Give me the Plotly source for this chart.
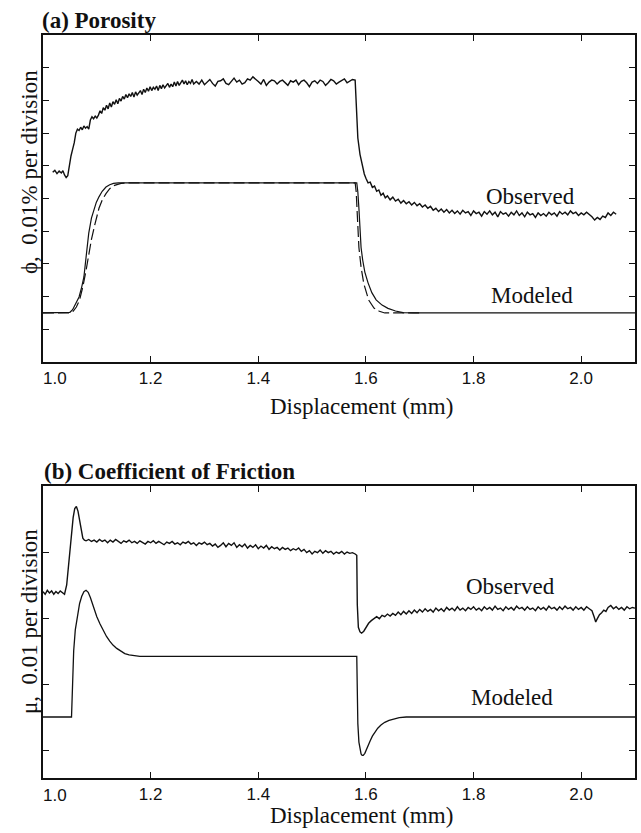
import plotly.graph_objects as go

# ---------------- (a) Porosity, units: divisions (0.01 % per division) ----------------
PHI_OBS_X = [
    1.018, 1.022, 1.026, 1.030, 1.034, 1.037, 1.040, 1.043, 1.046, 1.049,
    1.052, 1.055, 1.058, 1.061, 1.064, 1.067, 1.070, 1.073, 1.076, 1.079,
    1.082, 1.085, 1.088, 1.091, 1.094, 1.097, 1.100, 1.103, 1.106, 1.109,
    1.112, 1.115, 1.118, 1.121, 1.124, 1.127, 1.130, 1.133, 1.136, 1.139,
    1.142, 1.145, 1.148, 1.151, 1.154, 1.157, 1.160, 1.163, 1.166, 1.169,
    1.172, 1.175, 1.178, 1.181, 1.184, 1.187, 1.190, 1.193, 1.196, 1.199,
    1.202, 1.205, 1.208, 1.211, 1.214, 1.217, 1.220, 1.223, 1.226, 1.229,
    1.232, 1.235, 1.238, 1.241, 1.244, 1.247, 1.250, 1.253, 1.256, 1.259,
    1.262, 1.265, 1.268, 1.271, 1.274, 1.277, 1.280,
    1.285, 1.290, 1.295, 1.300, 1.305, 1.310, 1.315, 1.320, 1.325, 1.330,
    1.335, 1.340, 1.345, 1.350, 1.355, 1.360, 1.365, 1.370, 1.375, 1.380,
    1.385, 1.390, 1.395, 1.400, 1.405, 1.410, 1.415, 1.420, 1.425, 1.430,
    1.435, 1.440, 1.445, 1.450, 1.455, 1.460, 1.465, 1.470, 1.475, 1.480,
    1.485, 1.490, 1.495, 1.500, 1.505, 1.510, 1.515, 1.520, 1.525, 1.530,
    1.535, 1.540, 1.545, 1.550, 1.555, 1.560, 1.565, 1.570, 1.575, 1.580,
    1.582, 1.585, 1.589, 1.593, 1.597,
    1.600, 1.604, 1.608, 1.612, 1.616, 1.620, 1.624, 1.628, 1.632, 1.636,
    1.640, 1.645, 1.650, 1.655, 1.660, 1.665, 1.670, 1.675, 1.680, 1.685,
    1.690, 1.695, 1.700, 1.705, 1.710, 1.715, 1.720, 1.725, 1.730, 1.735,
    1.740, 1.745, 1.750, 1.755, 1.760, 1.765, 1.770, 1.775, 1.780, 1.785,
    1.790, 1.795, 1.800, 1.805, 1.810, 1.815, 1.820, 1.825, 1.830, 1.835,
    1.840, 1.845, 1.850, 1.855, 1.860, 1.865, 1.870, 1.875, 1.880, 1.885,
    1.890, 1.895, 1.900, 1.905, 1.910, 1.915, 1.920, 1.925, 1.930, 1.935,
    1.940, 1.945, 1.950, 1.955, 1.960, 1.965, 1.970, 1.975, 1.980, 1.985,
    1.990, 1.995, 2.000, 2.005, 2.010, 2.015, 2.020, 2.025, 2.030, 2.035,
    2.040, 2.045, 2.050, 2.055, 2.060, 2.065,
]
PHI_OBS_Y = [
    5.80, 5.86, 5.76, 5.84, 5.78, 5.85, 5.72, 5.64, 5.70, 6.05,
    6.30, 6.50, 6.70, 7.00, 7.12, 7.08, 7.18, 7.10, 7.22, 7.15,
    7.20, 7.12, 7.40, 7.50, 7.44, 7.52, 7.46, 7.55, 7.68, 7.60,
    7.78, 7.70, 7.85, 7.74, 7.92, 7.80, 7.96, 7.88, 8.02, 7.90,
    8.06, 7.98, 8.12, 8.04, 8.18, 8.08, 8.20, 8.12, 8.24, 8.10,
    8.26, 8.16, 8.22, 8.30, 8.18, 8.34, 8.24, 8.38, 8.28, 8.42,
    8.30, 8.40, 8.34, 8.44, 8.30, 8.46, 8.36, 8.48, 8.38, 8.44,
    8.52, 8.40, 8.50, 8.42, 8.56, 8.44, 8.58, 8.46, 8.54, 8.62,
    8.50, 8.60, 8.48, 8.58, 8.52, 8.64, 8.50,
    8.58, 8.50, 8.62, 8.48, 8.56, 8.64, 8.52, 8.44, 8.58, 8.60,
    8.66, 8.52, 8.48, 8.60, 8.68, 8.56, 8.62, 8.50, 8.54, 8.66,
    8.62, 8.72, 8.66, 8.58, 8.50, 8.64, 8.46, 8.56, 8.62, 8.60,
    8.50, 8.58, 8.62, 8.54, 8.46, 8.60, 8.56, 8.62, 8.48, 8.58,
    8.62, 8.54, 8.42, 8.56, 8.60, 8.52, 8.62, 8.58, 8.46, 8.54,
    8.64, 8.60, 8.50, 8.56, 8.62, 8.66, 8.54, 8.60, 8.64, 8.62,
    7.70, 6.85, 6.35, 6.00, 5.75,
    5.62, 5.48, 5.50, 5.34, 5.38, 5.22, 5.26, 5.10, 5.16, 5.02,
    5.08, 4.96, 5.04, 4.92, 4.98, 4.86, 4.94, 4.84, 4.90, 4.80,
    4.88, 4.78, 4.84, 4.74, 4.80, 4.70, 4.76, 4.64, 4.70, 4.60,
    4.68, 4.58, 4.66, 4.56, 4.64, 4.54, 4.62, 4.52, 4.64, 4.56,
    4.60, 4.48, 4.62, 4.54, 4.58, 4.46, 4.60, 4.52, 4.62, 4.50,
    4.58, 4.44, 4.60, 4.52, 4.56, 4.46, 4.58, 4.50, 4.62, 4.48,
    4.56, 4.44, 4.58, 4.50, 4.54, 4.42, 4.56, 4.48, 4.54, 4.46,
    4.58, 4.50, 4.56, 4.46, 4.60, 4.52, 4.58, 4.50, 4.62, 4.54,
    4.58, 4.48, 4.56, 4.50, 4.58, 4.52, 4.44, 4.34, 4.42, 4.36,
    4.46, 4.42, 4.56, 4.48, 4.58, 4.52,
]

PHI_MOD_X = [1.000, 1.045, 1.050, 1.055, 1.060, 1.067, 1.072, 1.076, 1.080, 1.085,
             1.090, 1.094, 1.099, 1.104, 1.110, 1.117, 1.124, 1.131, 1.140, 1.583,
             1.585, 1.587, 1.589, 1.591, 1.594, 1.598, 1.604, 1.611, 1.619, 1.630,
             1.641, 1.655, 1.669, 1.690, 2.100]
PHI_MOD_Y = [1.50, 1.50, 1.52, 1.60, 1.75, 1.99, 2.30, 2.60, 3.20, 3.94,
             4.40, 4.65, 4.88, 5.05, 5.22, 5.35, 5.42, 5.46, 5.48, 5.48,
             5.20, 4.70, 3.94, 3.50, 3.12, 2.75, 2.42, 2.12, 1.90, 1.74,
             1.64, 1.56, 1.51, 1.50, 1.50]

PHI_ALT_X = [1.000, 1.050, 1.056, 1.062, 1.068, 1.074, 1.080, 1.085, 1.090, 1.097,
             1.104, 1.110, 1.117, 1.124, 1.133, 1.145, 1.160, 1.580, 1.582, 1.584,
             1.587, 1.591, 1.596, 1.605, 1.615, 1.625, 1.635, 1.700]
PHI_ALT_Y = [1.50, 1.50, 1.55, 1.68, 1.90, 2.30, 2.80, 3.30, 3.75, 4.25,
             4.70, 4.95, 5.15, 5.30, 5.40, 5.46, 5.48, 5.48, 5.20, 4.50,
             3.50, 2.90, 2.40, 1.90, 1.65, 1.55, 1.50, 1.50]

# ---------------- (b) Coefficient of friction, units: divisions (0.01 per division) ----------------
MU_OBS_X = [
    1.000, 1.004, 1.008, 1.012, 1.016, 1.020, 1.024, 1.028, 1.032, 1.036,
    1.040, 1.044, 1.047, 1.050, 1.053, 1.056, 1.059, 1.062, 1.065, 1.068,
    1.071, 1.074, 1.077,
    1.080, 1.085, 1.090, 1.095, 1.100, 1.105, 1.110, 1.115, 1.120, 1.125,
    1.130, 1.135, 1.140, 1.145, 1.150, 1.155, 1.160, 1.165, 1.170, 1.175,
    1.180, 1.185, 1.190, 1.195, 1.200, 1.205, 1.210, 1.215, 1.220, 1.225,
    1.230, 1.235, 1.240, 1.245, 1.250, 1.255, 1.260, 1.265, 1.270, 1.275,
    1.280, 1.285, 1.290, 1.295, 1.300, 1.305, 1.310, 1.315, 1.320, 1.325,
    1.330, 1.335, 1.340, 1.345, 1.350, 1.355, 1.360, 1.365, 1.370, 1.375,
    1.380, 1.385, 1.390, 1.395, 1.400, 1.405, 1.410, 1.415, 1.420, 1.425,
    1.430, 1.435, 1.440, 1.445, 1.450, 1.455, 1.460, 1.465, 1.470, 1.475,
    1.480, 1.485, 1.490, 1.495, 1.500, 1.505, 1.510, 1.515, 1.520, 1.525,
    1.530, 1.535, 1.540, 1.545, 1.550, 1.555, 1.560, 1.565, 1.570, 1.575,
    1.580,
    1.583, 1.584, 1.586, 1.589, 1.592, 1.596, 1.600, 1.605, 1.610,
    1.615, 1.620, 1.625, 1.630, 1.635, 1.640, 1.645, 1.650, 1.655, 1.660,
    1.665, 1.670, 1.675, 1.680, 1.685, 1.690, 1.695, 1.700, 1.705, 1.710,
    1.715, 1.720, 1.725, 1.730, 1.735, 1.740, 1.745, 1.750, 1.755, 1.760,
    1.765, 1.770, 1.775, 1.780, 1.785, 1.790, 1.795, 1.800, 1.805, 1.810,
    1.815, 1.820, 1.825, 1.830, 1.835, 1.840, 1.845, 1.850, 1.855, 1.860,
    1.865, 1.870, 1.875, 1.880, 1.885, 1.890, 1.895, 1.900, 1.905, 1.910,
    1.915, 1.920, 1.925, 1.930, 1.935, 1.940, 1.945, 1.950, 1.955, 1.960,
    1.965, 1.970, 1.975, 1.980, 1.985, 1.990, 1.995, 2.000, 2.005, 2.010,
    2.015, 2.020,
    2.024, 2.027, 2.030, 2.034, 2.038, 2.042, 2.046, 2.050, 2.055, 2.060,
    2.065, 2.070, 2.075, 2.080, 2.085, 2.090, 2.095, 2.100,
]
MU_OBS_Y = [
    2.40, 2.36, 2.42, 2.38, 2.41, 2.36, 2.40, 2.37, 2.41, 2.38,
    2.36, 2.50, 2.75, 3.05, 3.30, 3.52, 3.66, 3.69, 3.62, 3.46,
    3.30, 3.21, 3.18,
    3.17, 3.19, 3.16, 3.18, 3.15, 3.19, 3.16, 3.18, 3.14, 3.18,
    3.15, 3.19, 3.16, 3.13, 3.17, 3.15, 3.18, 3.14, 3.16, 3.13,
    3.17, 3.15, 3.12, 3.16, 3.14, 3.17, 3.13, 3.16, 3.14, 3.11,
    3.15, 3.13, 3.16, 3.12, 3.14, 3.11, 3.15, 3.13, 3.16, 3.12,
    3.14, 3.10, 3.14, 3.12, 3.15, 3.11, 3.13, 3.09, 3.12, 3.07,
    3.10, 3.14, 3.08, 3.13, 3.10, 3.14, 3.07, 3.11, 3.08, 3.12,
    3.06, 3.10, 3.07, 3.11, 3.05, 3.09, 3.06, 3.10, 3.04, 3.08,
    3.05, 3.07, 3.03, 3.07, 3.04, 3.06, 3.02, 3.05, 3.03, 3.06,
    3.01, 3.04, 2.99, 3.02, 2.97, 3.01, 2.99, 3.03, 2.98, 3.02,
    2.99, 3.01, 2.97, 3.00, 2.98, 3.01, 2.97, 3.00, 2.98, 2.99,
    2.97,
    2.95, 2.20, 1.86, 1.79, 1.77, 1.80, 1.85, 1.92, 1.96,
    1.99, 2.02, 1.99, 2.04, 2.02, 2.06, 2.03, 2.07, 2.04, 2.09,
    2.05, 2.10, 2.06, 2.11, 2.07, 2.12, 2.08, 2.13, 2.09, 2.14,
    2.10, 2.13, 2.09, 2.15, 2.11, 2.14, 2.10, 2.16, 2.12, 2.15,
    2.11, 2.17, 2.12, 2.15, 2.11, 2.16, 2.13, 2.17, 2.12, 2.15,
    2.11, 2.17, 2.13, 2.16, 2.12, 2.18, 2.13, 2.15, 2.11, 2.17,
    2.13, 2.16, 2.12, 2.18, 2.14, 2.16, 2.12, 2.17, 2.13, 2.15,
    2.11, 2.17, 2.13, 2.16, 2.12, 2.18, 2.14, 2.16, 2.12, 2.17,
    2.13, 2.18, 2.14, 2.16, 2.12, 2.17, 2.13, 2.16, 2.12, 2.17,
    2.14, 2.11,
    2.02, 1.94, 1.99, 2.05, 2.08, 2.12, 2.10, 2.16, 2.19, 2.14,
    2.17, 2.13, 2.16, 2.12, 2.17, 2.14, 2.16, 2.15,
]

MU_MOD_X = [1.000, 1.053, 1.055, 1.057, 1.060, 1.064, 1.068, 1.072, 1.076, 1.080,
            1.084, 1.088, 1.092, 1.096, 1.100, 1.106, 1.112, 1.118, 1.124, 1.130,
            1.137, 1.144, 1.152, 1.160, 1.170, 1.180, 1.583, 1.5835, 1.585, 1.587,
            1.589, 1.591, 1.593, 1.595, 1.598, 1.601, 1.604, 1.608, 1.612, 1.617,
            1.622, 1.628, 1.635, 1.643, 1.652, 1.662, 1.675, 2.100]
MU_MOD_Y = [0.50, 0.50, 1.00, 1.50, 1.82, 2.05, 2.22, 2.33, 2.40, 2.42,
            2.39, 2.31, 2.21, 2.11, 2.02, 1.91, 1.81, 1.72, 1.65, 1.59,
            1.54, 1.50, 1.46, 1.44, 1.43, 1.42, 1.42, 0.90, 0.40, 0.12,
            0.00, -0.06, -0.08, -0.08, -0.05, 0.00, 0.06, 0.14, 0.21, 0.28,
            0.33, 0.38, 0.42, 0.45, 0.47, 0.49, 0.50, 0.50]

X_TICKS = [1.0, 1.2, 1.4, 1.6, 1.8, 2.0]
X_TICK_TEXT = ["", "1.2", "1.4", "1.6", "1.8", "2.0"]
FIRST_TICK_TEXT = "1.0"
PHI_TICKS = [0, 1, 2, 3, 4, 5, 6, 7, 8, 9, 10]
MU_TICKS = [0, 1, 2, 3, 4]

SERIF = '"Liberation Serif", "Times New Roman", serif'
SANS = '"Liberation Sans", Arial, sans-serif'
BLACK = "#111111"

fig = go.Figure()
fig.add_trace(go.Scatter(x=PHI_ALT_X, y=PHI_ALT_Y, mode="lines", xaxis="x", yaxis="y",
                         line=dict(color=BLACK, width=1.2, dash="11px,4px")))
fig.add_trace(go.Scatter(x=PHI_MOD_X, y=PHI_MOD_Y, mode="lines", xaxis="x", yaxis="y",
                         line=dict(color=BLACK, width=1.2)))
fig.add_trace(go.Scatter(x=PHI_OBS_X, y=PHI_OBS_Y, mode="lines", xaxis="x", yaxis="y",
                         line=dict(color=BLACK, width=1.4)))
fig.add_trace(go.Scatter(x=MU_MOD_X, y=MU_MOD_Y, mode="lines", xaxis="x2", yaxis="y2",
                         line=dict(color=BLACK, width=1.3)))
fig.add_trace(go.Scatter(x=MU_OBS_X, y=MU_OBS_Y, mode="lines", xaxis="x2", yaxis="y2",
                         line=dict(color=BLACK, width=1.4)))

common_x = dict(range=[1.0, 2.1], tickvals=X_TICKS, ticktext=X_TICK_TEXT,
                showline=True, linecolor=BLACK, linewidth=1.5, mirror="ticks",
                ticks="inside", ticklen=6, tickwidth=1.2, tickcolor=BLACK,
                showgrid=False, zeroline=False,
                tickfont=dict(family=SANS, size=17, color=BLACK))
common_y = dict(showline=True, linecolor=BLACK, linewidth=1.5, mirror="ticks",
                ticks="inside", ticklen=6, tickwidth=1.2, tickcolor=BLACK,
                showgrid=False, zeroline=False, showticklabels=False)

# pixel layout helpers (plot area spans 43..637 horizontally, 35..778 vertically)
def px_x(p):
    return (p - 43) / 594.0

def px_y(p):
    return (778 - p) / 743.0

fig.update_layout(
    width=641, height=833,
    margin=dict(l=43, r=4, t=35, b=55),
    paper_bgcolor="white", plot_bgcolor="white",
    showlegend=False, hovermode=False,
    xaxis=dict(anchor="y", domain=[0, 1], **common_x),
    yaxis=dict(anchor="x", domain=[px_y(362), 1], range=[0, 10], tickvals=PHI_TICKS, **common_y),
    xaxis2=dict(anchor="y2", domain=[0, 1], **common_x),
    yaxis2=dict(anchor="x2", domain=[0, px_y(486)], range=[-0.424, 4.0], tickvals=MU_TICKS, **common_y),
)

tf = dict(family=SERIF, size=23, color=BLACK)
tk = dict(family=SANS, size=17, color=BLACK)
ann = [
    dict(text="<b>(a) Porosity</b>", x=px_x(40), y=px_y(21), xref="paper", yref="paper",
         xanchor="left", yanchor="middle", showarrow=False, font=tf),
    dict(text="<b>(b) Coefficient of Friction</b>", x=px_x(42), y=px_y(471), xref="paper", yref="paper",
         xanchor="left", yanchor="middle", showarrow=False, font=tf),
    dict(text="Displacement (mm)", x=px_x(363), y=px_y(406), xref="paper", yref="paper",
         xanchor="center", yanchor="middle", showarrow=False, font=tf),
    dict(text="Displacement (mm)", x=px_x(363), y=px_y(815), xref="paper", yref="paper",
         xanchor="center", yanchor="middle", showarrow=False, font=tf),
    dict(text="ϕ,  0.01% per division", x=px_x(29), y=px_y(172), xref="paper", yref="paper",
         xanchor="center", yanchor="middle", textangle=-90, showarrow=False, font=tf),
    dict(text="μ,  0.01 per division", x=px_x(29), y=px_y(622), xref="paper", yref="paper",
         xanchor="center", yanchor="middle", textangle=-90, showarrow=False, font=tf),
    dict(text=FIRST_TICK_TEXT, x=px_x(55), y=px_y(378), xref="paper", yref="paper",
         xanchor="center", yanchor="middle", showarrow=False, font=tk),
    dict(text=FIRST_TICK_TEXT, x=px_x(55), y=px_y(795), xref="paper", yref="paper",
         xanchor="center", yanchor="middle", showarrow=False, font=tk),
    dict(text="Observed", x=1.906, y=5.05, xref="x", yref="y", showarrow=False, font=tf),
    dict(text="Modeled", x=1.908, y=2.02, xref="x", yref="y", showarrow=False, font=tf),
    dict(text="Observed", x=1.868, y=2.47, xref="x2", yref="y2", showarrow=False, font=tf),
    dict(text="Modeled", x=1.871, y=0.79, xref="x2", yref="y2", showarrow=False, font=tf),
]
fig.update_layout(annotations=ann)

fig.write_html("out.html")
